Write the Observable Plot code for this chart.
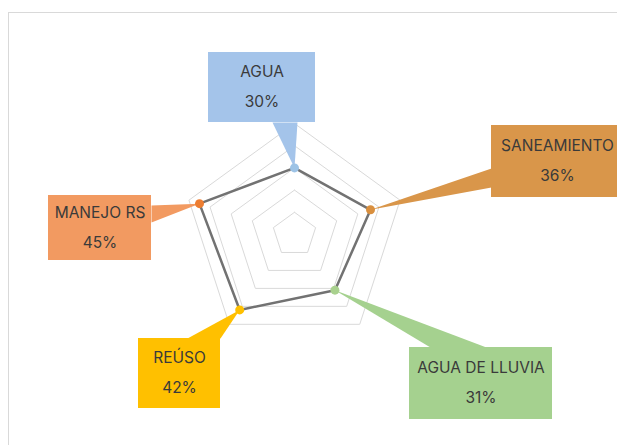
<!DOCTYPE html>
<html>
<head>
<meta charset="utf-8">
<script src="https://cdn.jsdelivr.net/npm/d3@7"></script>
<script src="https://cdn.jsdelivr.net/npm/@observablehq/plot@0.6"></script>
<style>
  html, body { margin: 0; padding: 0; background: #fff; overflow: hidden; }
  #chart svg { display: block; }
</style>
</head>
<body>
<div id="chart"></div>
<script>
// ---- data ----
const categories = ["AGUA", "SANEAMIENTO", "AGUA DE LLUVIA", "REÚSO", "MANEJO RS"];
const values = [30, 36, 31, 42, 45];
const valueLabels = ["30%", "36%", "31%", "42%", "45%"];
const ringLevels = [10, 20, 30, 40, 50];

// ---- styles ----
const dotColors = ["#9dc3e6", "#d98f3e", "#a9d18e", "#ffc000", "#ed7d31"];
const boxColors = ["#a4c4ea", "#d9964a", "#a5d18f", "#ffc000", "#f29a61"];

// ---- layout (pixels) ----
const W = 617, H = 445;
const CX = 294, CY = 234, K = 2.22; // center and px per unit
const ux = px => (px - CX) / K;
const uy = py => (CY - py) / K;
// box [x1, y1, x2, y2] and pointer base points, in pixels
const boxLayout = [
  {box: [208, 52, 315, 122], base: [[272, 122], [297, 122]]},
  {box: [491, 125, 623, 197], base: [[491, 168], [491, 187]]},
  {box: [409, 347, 552, 419], base: [[430, 347], [486, 347]]},
  {box: [138, 338, 220, 408], base: [[187, 338], [220, 338]]},
  {box: [48, 195, 151, 260], base: [[151, 205], [151, 222]]}
];

const n = categories.length;
const angle = i => (i * 2 * Math.PI) / n;
const pt = (i, v) => ({x: v * Math.sin(angle(i)), y: v * Math.cos(angle(i))});

const rings = ringLevels.flatMap(level =>
  d3.range(n + 1).map(i => ({level, ...pt(i % n, level)}))
);
const series = d3.range(n + 1).map(i => ({name: categories[i % n], ...pt(i % n, values[i % n])}));
const dots = categories.map((name, i) => ({name, color: dotColors[i], ...pt(i, values[i])}));

const boxes = categories.map((name, i) => {
  const [a, b, c, d] = boxLayout[i].box;
  return {
    name, label: valueLabels[i], color: boxColors[i],
    x1: ux(a), x2: ux(c), y1: uy(b), y2: uy(d),
    cx: ux((a + c) / 2), cy: uy((b + d) / 2)
  };
});

const pointerMarks = categories.map((name, i) => {
  const tip = pt(i, values[i]);
  const tri = [
    {x: ux(boxLayout[i].base[0][0]), y: uy(boxLayout[i].base[0][1])},
    {x: ux(boxLayout[i].base[1][0]), y: uy(boxLayout[i].base[1][1])},
    tip
  ];
  return Plot.line(tri, {x: "x", y: "y", fill: boxColors[i], stroke: "none", curve: "linear-closed"});
});

const font = "Inter, 'Noto Sans', sans-serif";

const chart = Plot.plot({
  width: W,
  height: H,
  margin: 0,
  x: {type: "linear", domain: [ux(0), ux(W)], range: [0, W], axis: null},
  y: {type: "linear", domain: [uy(H), uy(0)], range: [H, 0], axis: null},
  style: {background: "#fff", overflow: "hidden"},
  marks: [
    Plot.ruleY([uy(12)], {x1: ux(8), x2: ux(W + 20), stroke: "#d9d9d9", strokeWidth: 1}),
    Plot.ruleX([ux(8)], {y1: uy(12), y2: uy(H + 20), stroke: "#d9d9d9", strokeWidth: 1}),
    Plot.line(rings, {x: "x", y: "y", z: "level", stroke: "#d9d9d9", strokeWidth: 1}),
    ...pointerMarks,
    Plot.rect(boxes, {x1: "x1", x2: "x2", y1: "y1", y2: "y2", fill: "color"}),
    Plot.line(series, {x: "x", y: "y", stroke: "#727272", strokeWidth: 2.5, strokeLinejoin: "round"}),
    Plot.dot(dots, {x: "x", y: "y", r: 4.5, fill: "color", stroke: "none"}),
    Plot.text(boxes, {x: "cx", y: "cy", text: "name", dy: -15, fontSize: 15.5, fill: "#3a3a3a", fontFamily: font}),
    Plot.text(boxes, {x: "cx", y: "cy", text: "label", dy: 15, fontSize: 15.5, fill: "#3a3a3a", fontFamily: font})
  ],
  color: {type: "identity"}
});

document.getElementById("chart").appendChild(chart);
</script>
</body>
</html>
